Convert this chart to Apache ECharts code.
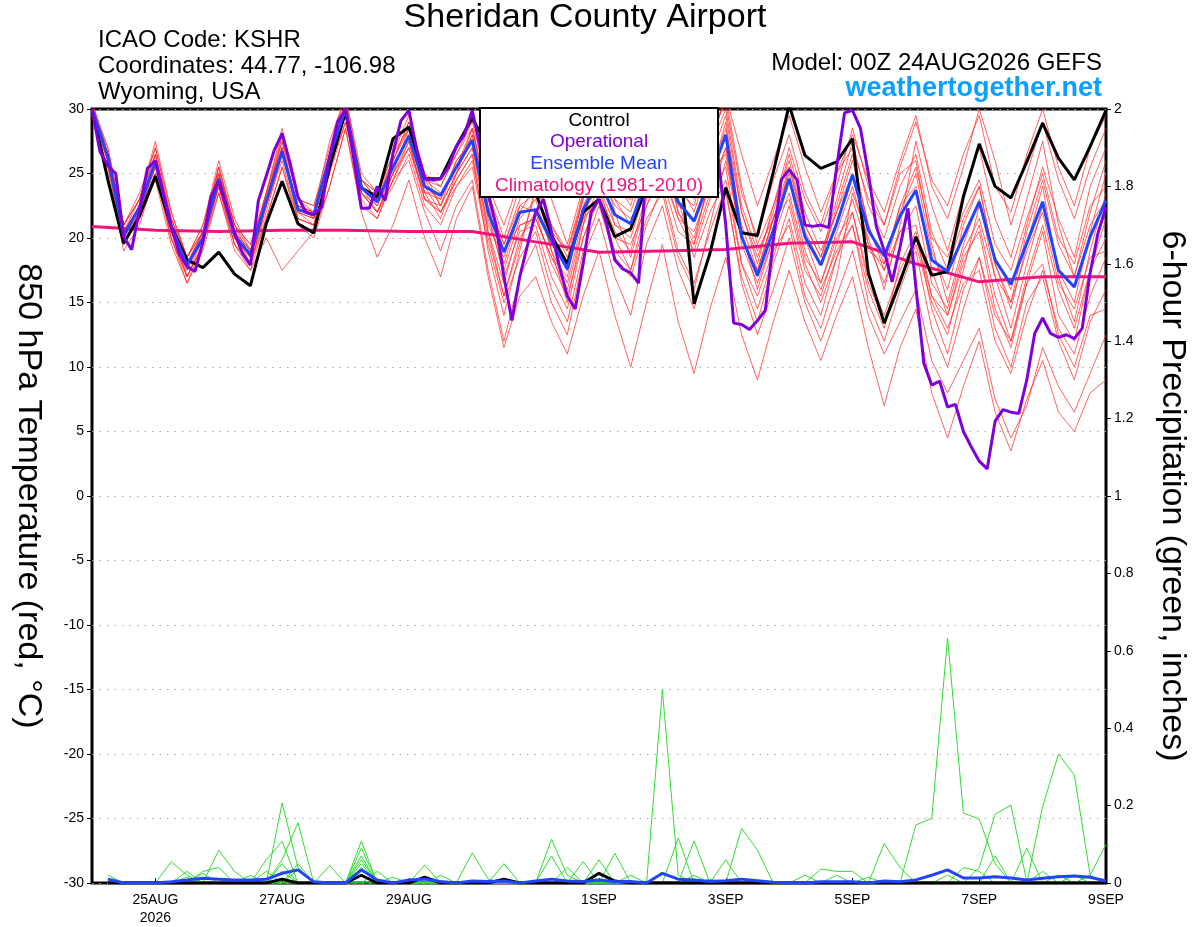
<!DOCTYPE html>
<html>
<head>
<meta charset="utf-8">
<title>Sheridan County Airport</title>
<script src="https://cdn.jsdelivr.net/npm/echarts@6/dist/echarts.min.js"></script>
<style>
  html, body { margin: 0; padding: 0; background: #fff; }
  #chart { width: 1200px; height: 927px; }
</style>
</head>
<body>
<div id="chart"></div>
<script>
// ===== 数据 =====
// x 轴: 从 00Z 24AUG2026 起的预报小时
const tickHours = [24, 72, 120, 192, 240, 288, 336, 384];
const tickLabels = ['25AUG\n2026', '27AUG', '29AUG', '1SEP', '3SEP', '5SEP', '7SEP', '9SEP'];

// 850 hPa 温度, 6 小时一个点 (0..384h)
const ctlTemp = [
  30.0,24.5,19.6,21.7, 24.8,20.9,18.3,17.7, 18.9,17.2,16.3,21.1, 24.4,21.1,20.4,25.5,
  29.8,23.9,23.2,27.7, 28.6,24.6,24.6,27.1, 29.3,27.0,25.5,24.8, 23.5,20.2,18.0,22.0,
  23.0,20.1,20.7,24.0, 26.5,27.0,14.9,18.8, 23.9,20.4,20.2,25.1, 30.3,26.4,25.4,25.9,
  27.7,17.3,13.4,16.6, 20.1,17.1,17.4,23.2, 27.3,24.0,23.1,25.9, 28.9,26.2,24.5,27.1,
  29.9
];
const meanTemp = [
  30.0,26.3,20.2,22.4, 25.9,20.9,17.9,20.0, 24.6,20.2,18.7,22.9, 26.7,22.2,21.8,26.3,
  30.0,23.9,22.8,25.5, 27.9,24.0,23.3,25.5, 27.6,22.0,18.9,22.0, 22.2,19.8,17.6,22.2,
  24.5,21.8,21.1,24.5, 26.0,22.8,21.3,24.6, 28.0,20.1,17.1,20.6, 24.6,20.1,17.9,21.1,
  24.9,20.6,18.6,21.7, 23.7,18.3,17.4,20.1, 22.8,18.3,16.4,19.6, 22.8,17.5,16.2,20.1,
  22.9
];
// 业务模式 (Operational), 3 小时一个点
const opTemp = [
  30.0,26.7,25.6,25.0,20.1,19.1,22.2,25.4, 26.0,23.5,20.9,18.8,17.8,17.4,19.7,23.2,
  24.4,22.4,20.4,18.8,17.9,22.9,24.8,26.8, 28.1,25.8,23.2,22.0,21.8,22.4,26.3,29.0,
  30.0,26.3,22.3,22.3,24.0,22.9,26.6,29.1, 29.9,26.8,24.6,24.5,24.6,25.5,27.1,28.0,
  29.9,27.0,23.5,21.0,17.0,13.6,17.0,19.5, 22.0,23.0,20.5,17.8,15.5,14.5,18.0,22.0,
  23.0,21.0,18.3,17.6,17.3,16.5,26.0,27.5, 28.0,27.0,26.0,26.5,27.5,28.5,28.5,26.5,
  21.0,13.4,13.3,12.9,13.6,14.4,19.8,24.5, 25.3,24.5,21.0,20.9,21.0,20.8,25.5,29.7,
  29.9,28.5,25.0,20.9,19.0,16.6,19.3,22.3, 16.2,10.3,8.6,8.9,6.9,7.1,5.0,3.8,
  2.7,2.1,5.8,6.7,6.5,6.4,9.0,12.6, 13.8,12.6,12.3,12.5,12.2,13.0,17.3,20.4,
  22.4
];
// 气候平均 (1981-2010), 每天一个点
const climTemp = [20.9,20.6,20.5,20.6,20.6,20.5,20.5,19.7,18.9,19.0,19.1,19.6,19.7,18.0,16.6,17.0,17.0];

// 集合成员温度 (6 小时)
const memberTemp = [
  [30.5,27.0,21.0,23.0, 27.5,22.0,18.5,21.0, 25.5,21.0,19.5,23.5, 28.0,23.0,22.5,27.0,
   31.0,25.0,23.5,26.5, 29.5,25.0,24.0,26.5, 29.0,24.0,21.0,24.5, 27.0,23.0,19.5,24.0,
   28.5,24.5,22.5,27.0, 30.0,26.0,23.0,27.5, 31.0,26.5,22.5,26.0, 29.5,25.5,22.0,25.0,
   28.0,24.5,22.0,26.0, 29.5,24.0,21.5,25.5, 30.0,26.0,21.0,25.0, 29.0,24.5,21.5,25.5, 28.5],
  [29.5,25.5,19.5,21.5, 25.0,20.0,17.0,19.5, 24.0,19.5,18.0,22.5, 27.0,21.5,21.0,25.5,
   29.5,23.0,21.5,24.5, 27.0,23.0,22.0,24.0, 25.5,19.5,15.0,18.5, 20.5,16.0,13.5,19.0,
   22.5,18.5,17.0,21.0, 24.0,19.0,16.5,20.5, 24.0,16.5,12.5,16.0, 20.0,15.0,12.0,15.5,
   19.0,14.0,11.0,13.5, 16.0,10.5,8.0,10.5, 13.0,7.5,4.5,7.0, 11.5,8.5,6.5,9.5, 12.5],
  [30.0,26.5,20.5,22.5, 26.5,21.0,17.5,20.5, 25.0,20.5,19.0,23.0, 27.5,22.0,21.5,26.5,
   30.5,24.0,23.0,25.5, 28.0,23.5,23.5,25.0, 28.0,21.5,17.5,21.5, 23.0,19.0,16.5,21.5,
   25.5,21.0,20.5,25.0, 27.0,22.0,20.0,24.5, 29.0,20.5,16.0,20.0, 25.5,20.5,18.0,22.5,
   26.5,21.0,17.5,22.0, 25.0,19.0,16.0,21.0, 24.0,18.0,14.5,19.5, 24.0,17.0,13.5,19.0, 23.5],
  [29.5,26.0,19.5,21.5, 24.5,19.5,16.5,19.0, 23.5,19.0,17.5,20.0, 17.5,19.0,20.5,24.0,
   28.5,22.5,21.5,24.5, 26.0,22.0,19.0,22.5, 24.5,17.5,12.0,17.0, 19.5,15.0,12.5,18.5,
   21.5,17.0,14.0,19.5, 22.5,17.5,14.5,19.0, 23.5,17.0,13.5,18.0, 21.5,16.5,14.0,18.5,
   21.0,16.0,13.0,18.0, 20.5,14.5,11.0,16.0, 18.5,13.0,10.0,15.0, 17.0,12.0,9.0,13.5, 16.0],
  [30.5,26.5,21.0,23.5, 27.0,21.5,18.5,20.5, 25.5,21.0,18.5,23.5, 28.5,23.0,22.0,27.5,
   31.0,24.5,23.0,26.0, 29.0,25.0,22.5,26.0, 27.5,23.0,19.5,23.0, 25.5,20.5,17.5,23.5,
   27.5,24.0,23.5,27.5, 29.0,25.5,24.0,28.0, 30.5,23.5,20.0,24.5, 28.0,23.5,21.0,25.0,
   27.0,23.0,21.0,25.5, 29.0,24.5,22.5,26.5, 29.5,24.0,22.0,26.5, 30.0,25.5,22.5,27.0, 29.5],
  [29.5,25.0,19.0,21.0, 25.0,20.0,16.5,19.5, 23.5,19.5,18.0,21.5, 25.5,21.0,20.0,24.0,
   28.5,22.0,18.5,21.0, 24.5,20.0,17.0,21.5, 24.0,17.0,11.5,15.5, 17.0,13.5,11.0,15.5,
   19.0,14.0,10.0,15.0, 19.5,13.5,9.5,14.5, 18.5,12.5,9.0,13.5, 17.5,13.5,10.5,14.0,
   17.0,11.5,7.0,11.5, 14.5,8.0,4.5,8.5, 12.0,6.5,3.5,7.5, 10.5,6.5,5.0,8.0, 9.0],
  [30.0,26.0,20.0,22.0, 26.0,21.5,18.0,20.0, 24.5,20.5,19.0,23.5, 27.5,23.0,22.5,26.0,
   29.5,24.5,23.5,26.0, 28.5,24.5,23.5,25.5, 28.5,23.0,19.0,21.0, 21.5,18.5,17.0,22.5,
   25.0,22.5,21.5,23.5, 24.5,20.5,19.5,25.0, 28.5,22.0,18.5,22.0, 26.5,22.0,19.0,22.0,
   25.0,19.5,16.5,20.5, 22.5,16.5,14.5,19.0, 21.5,17.0,15.0,20.5, 24.5,19.5,17.0,22.0, 26.0],
  [30.0,26.5,20.0,22.5, 26.0,20.5,17.0,19.5, 25.0,21.0,19.5,23.0, 26.5,22.5,22.0,26.5,
   30.5,24.5,23.5,26.5, 28.5,24.0,23.0,26.0, 27.5,20.5,15.5,20.0, 22.0,18.0,15.5,20.0,
   23.5,20.5,19.0,23.5, 26.5,23.5,22.5,27.0, 30.0,22.5,19.0,21.5, 23.0,18.0,15.0,18.5,
   22.0,17.0,14.0,17.5, 20.0,15.5,14.0,18.0, 21.0,15.5,12.0,16.5, 20.5,14.0,12.0,17.5, 20.0],
  [30.0,27.0,21.0,23.0, 26.5,21.5,18.5,20.5, 25.0,20.5,18.5,22.5, 26.5,22.5,22.0,26.5,
   29.5,23.5,22.5,25.0, 27.0,23.5,23.0,25.5, 28.0,22.5,19.5,22.5, 23.5,20.5,19.0,23.5,
   26.0,23.0,22.0,25.5, 27.5,22.0,19.5,23.5, 25.5,18.0,14.5,18.5, 22.5,17.5,15.5,19.5,
   23.0,19.0,18.0,22.5, 25.5,20.0,18.5,22.0, 24.5,19.5,17.5,21.5, 25.0,20.0,18.0,22.5, 24.0],
  [30.0,26.0,20.5,22.0, 25.5,20.5,18.0,20.0, 24.0,20.0,18.5,22.5, 26.0,21.5,21.0,25.5,
   30.0,23.5,22.0,25.0, 27.5,23.0,22.5,25.0, 27.0,21.0,18.5,22.5, 22.0,19.5,18.0,21.5,
   23.0,20.0,19.5,22.5, 25.0,21.5,20.5,24.0, 27.0,19.5,16.5,20.0, 23.5,18.5,16.5,20.5,
   24.0,19.5,17.5,20.5, 21.0,15.5,13.0,16.5, 17.5,12.0,9.5,14.0, 17.5,13.0,11.0,15.5, 18.5],
  [30.0,26.5,20.5,23.0, 27.0,22.0,18.5,21.0, 26.0,21.5,19.0,23.5, 27.0,22.5,21.5,25.5,
   30.0,24.5,23.0,25.5, 28.0,24.5,24.0,26.5, 28.5,23.5,20.0,24.0, 24.5,21.0,19.0,23.0,
   26.5,23.5,23.0,26.5, 28.5,24.5,23.5,27.0, 31.0,24.0,19.5,22.5, 26.0,21.0,18.5,23.0,
   27.5,22.5,20.0,24.0, 26.5,20.5,17.5,21.5, 24.0,18.0,15.0,19.0, 22.0,16.5,14.5,18.5, 19.0],
  [29.5,25.5,20.0,22.0, 25.5,20.5,17.5,20.0, 24.5,20.0,18.0,22.0, 26.5,22.0,21.0,25.5,
   29.0,23.5,22.0,24.5, 27.5,23.0,22.0,24.5, 26.5,20.5,16.5,21.0, 21.5,18.5,16.0,21.0,
   24.0,21.0,20.0,24.0, 25.5,22.5,21.5,25.0, 26.5,20.0,17.0,21.5, 25.5,21.0,18.5,22.0,
   26.0,21.0,18.0,22.5, 24.0,17.5,14.0,18.5, 20.5,14.5,11.5,16.5, 18.0,12.5,10.0,14.0, 14.5],
  [30.0,26.0,20.0,22.5, 26.0,21.0,17.0,20.0, 25.5,20.5,18.0,22.5, 28.0,23.0,21.5,26.0,
   30.0,24.0,22.0,25.0, 28.5,24.0,22.0,24.5, 26.5,19.0,14.0,19.0, 24.0,19.0,15.0,21.0,
   26.5,22.0,18.5,23.0, 28.0,23.0,18.5,22.0, 24.5,18.0,15.5,19.0, 21.0,15.5,13.0,17.0,
   23.5,20.0,16.0,21.0, 27.5,22.5,19.0,23.5, 27.0,21.5,18.5,23.0, 27.5,21.0,17.0,21.0, 23.0],
  [30.5,26.5,21.0,23.0, 26.5,21.0,18.0,20.5, 24.0,19.5,17.5,21.5, 25.5,21.5,21.0,25.0,
   29.0,24.0,23.0,26.0, 29.0,24.5,22.5,25.0, 27.0,22.0,17.0,20.5, 21.0,17.0,14.5,20.0,
   23.0,19.0,17.5,22.5, 25.5,21.5,19.0,23.0, 27.0,21.0,17.5,21.5, 25.0,20.0,16.5,20.0,
   22.0,16.5,13.5,17.0, 19.0,13.0,10.0,14.5, 18.5,14.0,12.0,17.0, 21.0,16.0,13.0,17.5, 21.5],
  [29.5,26.0,20.5,22.5, 26.0,20.0,17.0,19.5, 24.0,20.0,18.5,23.0, 27.0,22.0,21.5,26.0,
   29.5,23.5,22.0,24.0, 26.5,22.5,21.0,24.0, 26.0,20.0,15.5,19.5, 23.5,20.0,17.5,22.0,
   24.0,20.0,17.5,21.5, 23.5,18.5,16.0,21.0, 26.0,20.0,17.5,21.5, 24.5,19.0,16.0,19.0,
   21.0,15.0,12.0,16.0, 19.5,15.0,12.5,17.5, 22.5,18.5,16.0,21.0, 25.5,21.5,18.5,24.0, 27.0],
  [30.0,26.5,19.5,22.0, 25.0,21.0,18.0,20.5, 25.0,21.0,19.0,23.0, 27.0,22.5,22.0,26.0,
   30.5,24.0,22.5,25.5, 28.0,23.5,21.5,25.0, 28.5,22.5,18.0,22.0, 24.0,21.0,18.5,23.0,
   27.0,23.0,21.0,25.5, 29.0,24.5,22.0,26.0, 29.5,22.0,18.0,22.5, 27.0,23.0,20.5,24.0,
   28.5,24.0,21.0,25.0, 26.0,19.5,15.0,19.5, 23.0,17.0,13.0,18.0, 22.5,17.5,15.0,20.5, 25.0]
];

// 6 小时降水 (英寸), 从 6h 到 384h
const ctlPrecip = [
  0,0,0,0,0,0,0,0, 0,0,0,0.01,0,0,0,0, 0.02,0,0,0,0.015,0,0,0, 0,0.01,0,0,0,0,0,0.025,
  0.005,0,0,0,0,0,0,0, 0,0,0,0,0,0,0,0, 0,0,0,0,0,0,0,0, 0,0,0,0,0,0,0,0
];
const meanPrecip = [
  0.01,0,0,0,0.003,0.008,0.012,0.01, 0.008,0.008,0.01,0.025,0.034,0.003,0,0,
  0.034,0.008,0,0.008,0.01,0.004,0,0.005, 0.004,0.005,0,0.005,0.01,0.005,0.004,0.008,
  0.003,0.004,0,0.025,0.01,0.008,0.004,0.006, 0.01,0.006,0.002,0,0,0.003,0.003,0.003,
  0,0.005,0.003,0.008,0.02,0.034,0.013,0.013, 0.016,0.013,0.008,0.012,0.016,0.018,0.015,0.005
];
const memberPrecip = [
  [0,0,0,0,0,0,0,0, 0,0,0,0.207,0.04,0,0,0, 0.108,0,0,0,0,0,0,0, 0,0,0,0,0,0,0,0,
   0,0,0,0.499,0.02,0,0,0, 0,0,0,0,0,0,0,0, 0,0,0,0,0,0.02,0,0, 0,0,0,0,0,0,0,0],
  [0,0,0,0,0,0,0,0, 0,0,0,0.06,0.156,0,0,0, 0.09,0,0,0,0,0,0,0, 0,0,0,0,0.113,0.02,0,0,
   0,0,0,0,0,0,0,0, 0,0,0,0,0,0,0,0, 0,0,0,0.15,0.167,0.633,0.181,0.165, 0.05,0,0,0,0,0,0,0],
  [0,0,0,0,0,0,0,0, 0,0,0.06,0.108,0,0,0,0, 0.07,0,0,0,0,0,0,0.078, 0.01,0,0,0,0,0,0,0,
   0,0,0,0,0.116,0,0,0, 0,0,0,0,0,0,0,0, 0,0,0,0,0,0,0,0.04, 0.178,0.201,0.003,0,0,0,0,0],
  [0,0,0,0,0,0,0,0.085, 0.03,0,0,0,0,0,0,0, 0.06,0,0,0,0,0,0,0, 0,0.05,0,0,0,0,0,0,
   0,0,0,0,0,0.109,0,0, 0,0,0,0,0,0,0,0, 0,0,0,0,0,0,0,0, 0,0,0,0.197,0.333,0.279,0.02,0],
  [0,0,0,0,0.055,0.02,0,0, 0,0,0,0,0,0,0,0, 0.04,0,0,0,0.046,0,0,0, 0,0,0,0,0,0,0,0,
   0,0,0,0,0,0,0,0, 0.141,0.085,0,0,0,0,0,0, 0,0.102,0.04,0,0,0,0,0, 0,0,0,0,0,0,0,0],
  [0,0,0,0,0,0,0,0, 0,0,0,0,0,0,0.045,0, 0,0,0,0,0,0,0,0, 0,0,0,0,0.07,0,0.055,0,
   0.077,0,0,0,0,0,0,0.06, 0,0,0,0,0,0,0,0, 0,0,0,0,0,0,0,0, 0,0,0,0,0,0,0.02,0.1],
  [0,0,0,0,0,0,0.03,0.04, 0,0,0,0.05,0,0,0,0, 0,0.03,0,0,0,0,0,0, 0,0,0,0,0,0.04,0,0.06,
   0,0,0,0,0,0,0,0, 0,0,0,0,0,0.036,0.03,0.03, 0,0,0,0,0,0,0,0, 0.07,0,0.09,0,0,0,0,0],
  [0.02,0,0,0,0,0.03,0,0, 0,0,0,0,0.05,0,0,0, 0.02,0,0,0,0,0.02,0,0, 0,0,0,0,0,0,0,0,
   0,0.02,0,0,0,0,0,0, 0,0,0,0,0,0,0,0, 0,0,0,0,0,0,0.04,0.03, 0,0,0,0.03,0,0,0,0],
  [0,0,0,0,0,0,0.025,0, 0,0.02,0,0.03,0,0,0,0, 0,0,0.015,0,0,0,0,0, 0,0,0,0,0,0,0,0,
   0,0,0,0,0,0.02,0,0, 0,0,0,0,0.02,0,0.02,0, 0,0,0,0,0,0,0,0, 0,0,0,0,0.02,0,0,0],
  [0,0,0,0,0,0.015,0,0, 0,0,0.03,0,0.035,0,0,0, 0.05,0,0,0.01,0,0,0,0, 0,0,0,0,0,0,0,0,
   0,0,0,0,0,0,0.01,0, 0,0,0,0,0,0,0,0, 0.015,0,0,0,0,0,0,0, 0,0,0,0,0,0.02,0,0]
];

// ===== 颜色 =====
const RED = 'rgba(255,40,40,0.72)';
const GREEN = '#2fdc2f';
const PURPLE = '#8000d8';
const BLUE = '#2244ff';
const PINK = '#f0147c';
const FONT = '"Liberation Sans", Arial, sans-serif';

// [小时, 数值] 对
function pairs(arr, step, offset) {
  offset = offset || 0;
  return arr.map((v, i) => [(i + offset) * step, v]);
}
function line(data, color, width, yIdx) {
  return {
    type: 'line', data: data, yAxisIndex: yIdx || 0, symbol: 'none',
    lineStyle: { color: color, width: width }, itemStyle: { color: color },
    silent: true, animation: false
  };
}

const series = [];
memberTemp.forEach(m => series.push(line(pairs(m, 6), RED, 1)));
memberPrecip.forEach(m => series.push(line(pairs(m, 6, 1), GREEN, 1, 1)));
series.push(line(pairs(climTemp, 24), PINK, 3));
series.push(line(pairs(ctlPrecip, 6, 1), '#000', 3, 1));
series.push(line(pairs(meanPrecip, 6, 1), BLUE, 3, 1));
series.push(line(pairs(ctlTemp, 6), '#000', 3));
series.push(line(pairs(meanTemp, 6), BLUE, 3));
series.push(line(pairs(opTemp, 3), PURPLE, 3));

const labelMap = {};
tickHours.forEach((h, i) => { labelMap[h] = tickLabels[i]; });

// 图例框 (盖在曲线上面)
const LX = 480, LY = 108;
function legendText(txt, dy, color) {
  return { type: 'text', x: LX + 119, y: LY + dy, z: 200,
    style: { text: txt, font: '19px ' + FONT, fill: color, align: 'center', verticalAlign: 'middle' } };
}

const chart = echarts.init(document.getElementById('chart'));
chart.setOption({
  animation: false,
  backgroundColor: '#fff',
  textStyle: { fontFamily: FONT },
  grid: {
    left: 92, right: 94, top: 109, bottom: 44, containLabel: false, outerBoundsMode: 'none',
    show: true, borderColor: '#000', borderWidth: 3
  },
  xAxis: {
    type: 'value', min: 0, max: 384,
    axisLine: { show: false, onZero: false },
    splitLine: { show: false },
    axisTick: { inside: true, length: 5, customValues: tickHours, lineStyle: { color: '#000' } },
    axisLabel: {
      customValues: tickHours, color: '#000', fontSize: 14, fontFamily: FONT, margin: 8, lineHeight: 18,
      formatter: v => labelMap[v] || ''
    }
  },
  yAxis: [
    {
      type: 'value', min: -30, max: 30, interval: 5,
      name: '850 hPa Temperature (red, °C)', nameLocation: 'middle', nameRotate: -90, nameGap: 47,
      nameTextStyle: { fontSize: 34, color: '#000', fontFamily: FONT },
      axisLine: { show: false },
      axisTick: { show: true, length: 5, lineStyle: { color: '#000' } },
      axisLabel: { color: '#000', fontSize: 14, fontFamily: FONT, margin: 8 },
      splitLine: { show: true, lineStyle: { color: '#aaa', width: 1, type: [1.5, 6] } }
    },
    {
      type: 'value', min: 0, max: 2, interval: 0.2, position: 'right',
      name: '6-hour Precipitation (green, inches)', nameLocation: 'middle', nameRotate: -90, nameGap: 49,
      nameTextStyle: { fontSize: 34, color: '#000', fontFamily: FONT },
      axisLine: { show: false },
      axisTick: { show: true, length: 5, lineStyle: { color: '#000' } },
      axisLabel: { color: '#000', fontSize: 14, fontFamily: FONT, margin: 8, formatter: v => String(+v.toFixed(1)) },
      splitLine: { show: false }
    }
  ],
  series: series,
  graphic: [
    { type: 'text', x: 585, y: 18, style: { text: 'Sheridan County Airport', font: '34px ' + FONT, fill: '#000', align: 'center', verticalAlign: 'middle' } },
    { type: 'text', x: 98, y: 40, style: { text: 'ICAO Code: KSHR', font: '24px ' + FONT, fill: '#000', verticalAlign: 'middle' } },
    { type: 'text', x: 98, y: 66, style: { text: 'Coordinates: 44.77, -106.98', font: '24px ' + FONT, fill: '#000', verticalAlign: 'middle' } },
    { type: 'text', x: 98, y: 92, style: { text: 'Wyoming, USA', font: '24px ' + FONT, fill: '#000', verticalAlign: 'middle' } },
    { type: 'text', x: 1102, y: 63, style: { text: 'Model: 00Z 24AUG2026 GEFS', font: '24px ' + FONT, fill: '#000', align: 'right', verticalAlign: 'middle' } },
    { type: 'text', x: 1102, y: 89, style: { text: 'weathertogether.net', font: 'bold 27px ' + FONT, fill: '#0aa0ff', align: 'right', verticalAlign: 'middle' } },
    { type: 'rect', z: 199, shape: { x: LX, y: LY, width: 238, height: 89 }, style: { fill: '#fff', stroke: '#000', lineWidth: 2 } },
    legendText('Control', 13, '#000'),
    legendText('Operational', 34, PURPLE),
    legendText('Ensemble Mean', 56, BLUE),
    legendText('Climatology (1981-2010)', 78, PINK)
  ]
});
</script>
</body>
</html>
